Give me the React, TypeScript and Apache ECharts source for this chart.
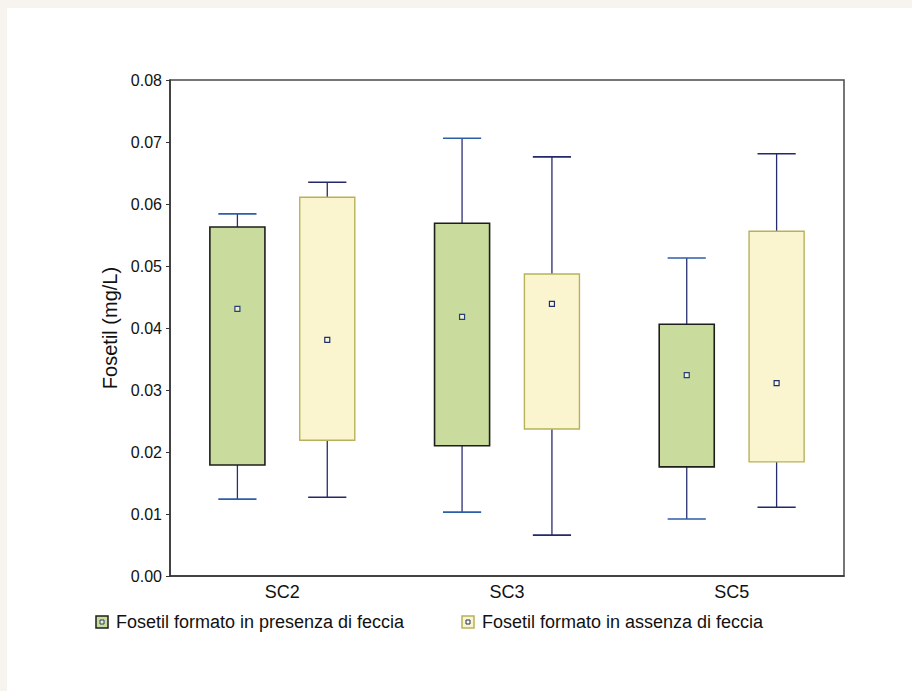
import React, { useEffect, useRef } from "react";
import * as echarts from "echarts";

const categories = ["SC2", "SC3", "SC5"];
const yTicks = [0, 0.01, 0.02, 0.03, 0.04, 0.05, 0.06, 0.07, 0.08];

// "Fosetil formato in presenza di feccia"
const presenzaMin = [0.0124, 0.0103, 0.0092];
const presenzaQ1 = [0.0179, 0.021, 0.0176];
const presenzaMean = [0.0431, 0.0418, 0.0324];
const presenzaQ3 = [0.0563, 0.0569, 0.0406];
const presenzaMax = [0.0584, 0.0706, 0.0513];

// "Fosetil formato in assenza di feccia"
const assenzaMin = [0.0127, 0.0066, 0.0111];
const assenzaQ1 = [0.0219, 0.0237, 0.0184];
const assenzaMean = [0.0381, 0.0439, 0.0311];
const assenzaQ3 = [0.0611, 0.0487, 0.0556];
const assenzaMax = [0.0635, 0.0676, 0.0681];

const seriesNames = [
  "Fosetil formato in presenza di feccia",
  "Fosetil formato in assenza di feccia",
];

const FONT = "'Liberation Sans', Arial, sans-serif";

type Style = {
  fill: string;
  border: string;
  borderWidth: number;
  whisker: string;
  cap: string;
  meanStroke: string;
  meanFill: string;
};

const greenStyle: Style = {
  fill: "#c9dc9e",
  border: "#1d1f1a",
  borderWidth: 1.6,
  whisker: "#2a2f72",
  cap: "#2d5ea8",
  meanStroke: "#27407a",
  meanFill: "#eef0c8",
};
const yellowStyle: Style = {
  fill: "#faf5cf",
  border: "#b7b25a",
  borderWidth: 1.4,
  whisker: "#272b6e",
  cap: "#23286a",
  meanStroke: "#1f2f6a",
  meanFill: "#fbf8e0",
};

function makeRender(offsetFrac: number, st: Style) {
  return (params: any, api: any) => {
    const idx = api.value(0);
    const lo = api.value(1);
    const q1 = api.value(2);
    const mean = api.value(3);
    const q3 = api.value(4);
    const hi = api.value(5);
    const band = api.size([1, 0])[0];
    const c = api.coord([idx, mean]);
    const x = c[0] + band * offsetFrac;
    const yLo = api.coord([idx, lo])[1];
    const yQ1 = api.coord([idx, q1])[1];
    const yQ3 = api.coord([idx, q3])[1];
    const yHi = api.coord([idx, hi])[1];
    const yMean = c[1];
    const bw = band * 0.245;
    const cw = band * 0.17;
    const ms = 5;
    return {
      type: "group",
      children: [
        {
          type: "line",
          shape: { x1: x, y1: yHi, x2: x, y2: yQ3 },
          style: { stroke: st.whisker, lineWidth: 1.3 },
        },
        {
          type: "line",
          shape: { x1: x, y1: yQ1, x2: x, y2: yLo },
          style: { stroke: st.whisker, lineWidth: 1.3 },
        },
        {
          type: "line",
          shape: { x1: x - cw / 2, y1: yHi, x2: x + cw / 2, y2: yHi },
          style: { stroke: st.cap, lineWidth: 1.6 },
        },
        {
          type: "line",
          shape: { x1: x - cw / 2, y1: yLo, x2: x + cw / 2, y2: yLo },
          style: { stroke: st.cap, lineWidth: 1.6 },
        },
        {
          type: "rect",
          shape: { x: x - bw / 2, y: yQ3, width: bw, height: yQ1 - yQ3 },
          style: { fill: st.fill, stroke: st.border, lineWidth: st.borderWidth },
        },
        {
          type: "rect",
          shape: { x: x - ms / 2, y: yMean - ms / 2, width: ms, height: ms },
          style: { fill: st.meanFill, stroke: st.meanStroke, lineWidth: 1.2 },
        },
      ],
    };
  };
}

function buildData(mins: number[], q1s: number[], means: number[], q3s: number[], maxs: number[]) {
  return categories.map((_, i) => [i, mins[i], q1s[i], means[i], q3s[i], maxs[i]]);
}

export default function App() {
  const ref = useRef<HTMLDivElement>(null);

  useEffect(() => {
    document.body.style.margin = "0";
    if (!ref.current) return;
    const chart = echarts.init(ref.current, null, { renderer: "svg" });

    const legendY = 622;
    const legendItem = (x: number, textX: number, st: Style, name: string) => [
      {
        type: "rect",
        shape: { x: x, y: legendY - 6, width: 12, height: 12 },
        style: { fill: st.fill, stroke: st.border, lineWidth: 1.5 },
      },
      {
        type: "rect",
        shape: { x: x + 4, y: legendY - 2, width: 4, height: 4 },
        style: { fill: st.meanFill, stroke: st.meanStroke, lineWidth: 1 },
      },
      {
        type: "text",
        x: textX,
        y: legendY,
        style: {
          text: name,
          font: `18px ${FONT}`,
          fill: "#111",
          textVerticalAlign: "middle",
          verticalAlign: "middle",
        },
      },
    ];

    chart.setOption({
      animation: false,
      backgroundColor: "transparent",
      textStyle: { fontFamily: FONT },
      grid: {
        left: 170,
        top: 80,
        right: 68,
        bottom: 115,
        show: true,
        borderColor: "#4a4a4a",
        borderWidth: 1.5,
        backgroundColor: "transparent",
      },
      xAxis: {
        type: "category",
        data: categories,
        axisLine: { lineStyle: { color: "#333", width: 1.5 } },
        axisTick: { alignWithLabel: true, length: 3, lineStyle: { color: "#333" } },
        axisLabel: { color: "#111", fontSize: 18, margin: 7, fontFamily: FONT },
        splitLine: { show: false },
      },
      yAxis: {
        type: "value",
        min: 0,
        max: 0.08,
        interval: 0.01,
        name: "Fosetil (mg/L)",
        nameLocation: "middle",
        nameRotate: 90,
        nameGap: 47,
        nameTextStyle: { color: "#111", fontSize: 20, fontFamily: FONT },
        axisLine: { show: true, lineStyle: { color: "#333", width: 1.5 } },
        axisTick: { show: true, length: 4, lineStyle: { color: "#333" } },
        axisLabel: {
          color: "#111",
          fontSize: 16,
          margin: 8,
          fontFamily: FONT,
          formatter: (v: number) => {
            const t = yTicks.find((k) => Math.abs(k - v) < 1e-9);
            return (t !== undefined ? t : v).toFixed(2);
          },
        },
        splitLine: { show: false },
      },
      series: [
        {
          name: seriesNames[0],
          type: "custom",
          renderItem: makeRender(-0.2, greenStyle),
          encode: { x: 0, y: [1, 2, 3, 4, 5] },
          data: buildData(presenzaMin, presenzaQ1, presenzaMean, presenzaQ3, presenzaMax),
          z: 3,
        },
        {
          name: seriesNames[1],
          type: "custom",
          renderItem: makeRender(0.2, yellowStyle),
          encode: { x: 0, y: [1, 2, 3, 4, 5] },
          data: buildData(assenzaMin, assenzaQ1, assenzaMean, assenzaQ3, assenzaMax),
          z: 3,
        },
      ],
      graphic: [
        ...legendItem(96, 116, greenStyle, seriesNames[0]),
        ...legendItem(462, 482, yellowStyle, seriesNames[1]),
      ],
    });

    return () => chart.dispose();
  }, []);

  return (
    <div style={{ position: "relative", width: 912, height: 691, background: "#f7f4ef", overflow: "hidden" }}>
      <div style={{ position: "absolute", left: 7, top: 8, right: 0, bottom: 0, background: "#ffffff" }} />
      <div ref={ref} style={{ position: "absolute", left: 0, top: 0, width: 912, height: 691 }} />
    </div>
  );
}
